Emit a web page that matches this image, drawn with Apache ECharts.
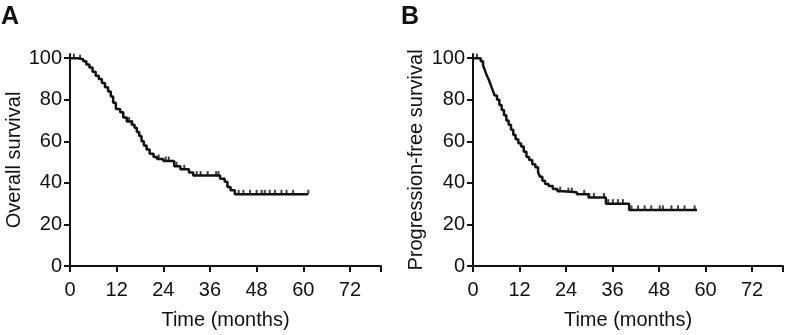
<!DOCTYPE html>
<html>
<head>
<meta charset="utf-8">
<script src="https://cdn.jsdelivr.net/npm/echarts@6/dist/echarts.min.js"></script>
<style>
  html, body { margin: 0; padding: 0; background: #fff; }
  #km_charts { width: 788px; height: 335px; }
</style>
</head>
<body>
<div id="km_charts"></div>
<script>
// 横轴刻度（月）
const timeTicks = [0, 12, 24, 36, 48, 60, 72];

// A: 总生存 (OS)
const osTime = [0, 2.0, 3.4, 4.2, 5.0, 5.8, 6.6, 7.4, 8.2, 9.0, 9.8, 10.5, 11.1, 11.8, 12.9, 13.7, 14.6,
  15.9, 16.6, 17.2, 17.8, 18.4, 19.0, 19.7, 20.5, 21.5, 22.4, 24.0, 26.8, 28.4, 30.6, 31.7, 38.6,
  39.8, 40.5, 41.3, 42.4, 61.3];
const osSurv = [100, 99.5, 98.5, 97, 95.5, 93.5, 91.5, 90, 88, 86, 84, 81.5, 78.5, 75.5, 74, 71.5, 69.5,
  68, 66.5, 64.5, 62.5, 60, 58, 56, 54, 52.5, 51.5, 50.5, 48, 46.5, 45, 43.5, 42,
  40.5, 38, 36.5, 34.5, 34.5];
const osCensor = [1.0, 2.6, 15.2, 16.0, 22.8, 24.6, 25.4, 27.4, 29.4, 32.6, 33.6, 35.4, 37.6,
  38.2, 43.4, 44.6, 46.3, 48.0, 49.3, 50.1, 51.4, 52.7, 54.4, 55.7, 57.4, 61.3];

// B: 无进展生存 (PFS)
const pfsTime = [0, 2.0, 2.6, 3.1, 3.6, 4.1, 4.6, 5.1, 5.6, 6.2, 6.8, 7.4, 8.0, 8.6, 9.2, 9.8, 10.4,
  11.0, 11.7, 12.4, 13.1, 13.8, 14.5, 15.3, 16.1, 16.8, 17.3, 17.9, 18.6, 19.5, 20.6, 21.8, 23.2,
  26.8, 29.8, 34.3, 40.3, 57.8];
const pfsSurv = [100, 98.5, 96.5, 94, 91.5, 89.5, 87, 84.5, 82, 80, 77.5, 75, 72.5, 70, 68, 65.5, 63,
  61, 59, 57.5, 55, 52.5, 51, 49, 47.5, 45, 43, 41, 39.5, 38.5, 37, 36, 35.5,
  34.5, 33, 30, 27, 27];
const pfsCensor = [1.0, 22.5, 24.6, 25.5, 28.7, 30.0, 31.2, 33.8, 34.9, 36.1, 37.4, 38.7, 40.9,
  42.6, 44.3, 46.0, 48.2, 49.0, 51.2, 52.9, 54.6, 57.2];

const FONT = "Liberation Sans, Arial, sans-serif";

// 阶梯函数取值
const survAt = (times, surv, t) => {
  let v = surv[0];
  for (let i = 0; i < times.length; i++) {
    if (times[i] <= t) v = surv[i];
  }
  return v;
};

const xAxisCfg = (idx) => ({
  gridIndex: idx,
  type: "value",
  min: 0,
  max: 80,
  interval: 12,
  name: "Time (months)",
  nameLocation: "middle",
  nameGap: 44,
  nameTextStyle: { fontSize: 20, color: "#111", fontFamily: FONT },
  axisLine: { lineStyle: { color: "#111", width: 2 } },
  axisTick: { length: 6, lineStyle: { color: "#111", width: 2 } },
  axisLabel: {
    fontSize: 20, color: "#111", fontFamily: FONT, margin: 14,
    formatter: (v) => (timeTicks.includes(v) ? String(v) : ""),
  },
  splitLine: { show: false },
});

const yAxisCfg = (idx, name, gap) => ({
  gridIndex: idx,
  type: "value",
  min: 0,
  max: 102,
  interval: 20,
  name: name,
  nameLocation: "middle",
  nameGap: gap,
  nameTextStyle: { fontSize: 20, color: "#111", fontFamily: FONT },
  axisLine: { show: true, lineStyle: { color: "#111", width: 2 } },
  axisTick: { show: true, length: 6, lineStyle: { color: "#111", width: 2 } },
  axisLabel: { fontSize: 20, color: "#111", fontFamily: FONT, margin: 8, showMaxLabel: false },
  splitLine: { show: false },
});

const curve = (idx, times, surv) => ({
  type: "line",
  xAxisIndex: idx,
  yAxisIndex: idx,
  step: "end",
  symbol: "none",
  data: times.map((t, i) => [t, surv[i]]),
  lineStyle: { color: "#111", width: 2.5 },
  silent: true,
  animation: false,
});

const censor = (idx, times, surv, cens) => ({
  type: "scatter",
  xAxisIndex: idx,
  yAxisIndex: idx,
  symbol: "rect",
  symbolSize: [2, 4],
  symbolOffset: [0, -2.5],
  itemStyle: { color: "#111" },
  data: cens.map((t) => [t, survAt(times, surv, t)]),
  silent: true,
  animation: false,
});

const myChart = echarts.init(document.getElementById("km_charts"));
myChart.setOption({
  backgroundColor: "#fff",
  animation: false,
  graphic: [
    { type: "text", left: 1, top: 5, style: { text: "A", font: "bold 25px " + FONT, fill: "#111" } },
    { type: "text", left: 401, top: 5, style: { text: "B", font: "bold 25px " + FONT, fill: "#111" } },
  ],
  grid: [
    { left: 70, top: 54, width: 311, height: 212 },
    { left: 473, top: 54, width: 310, height: 212 },
  ],
  xAxis: [xAxisCfg(0), xAxisCfg(1)],
  yAxis: [yAxisCfg(0, "Overall survival", 42), yAxisCfg(1, "Progression-free survival", 47)],
  series: [
    curve(0, osTime, osSurv),
    censor(0, osTime, osSurv, osCensor),
    curve(1, pfsTime, pfsSurv),
    censor(1, pfsTime, pfsSurv, pfsCensor),
  ],
});
</script>
</body>
</html>
